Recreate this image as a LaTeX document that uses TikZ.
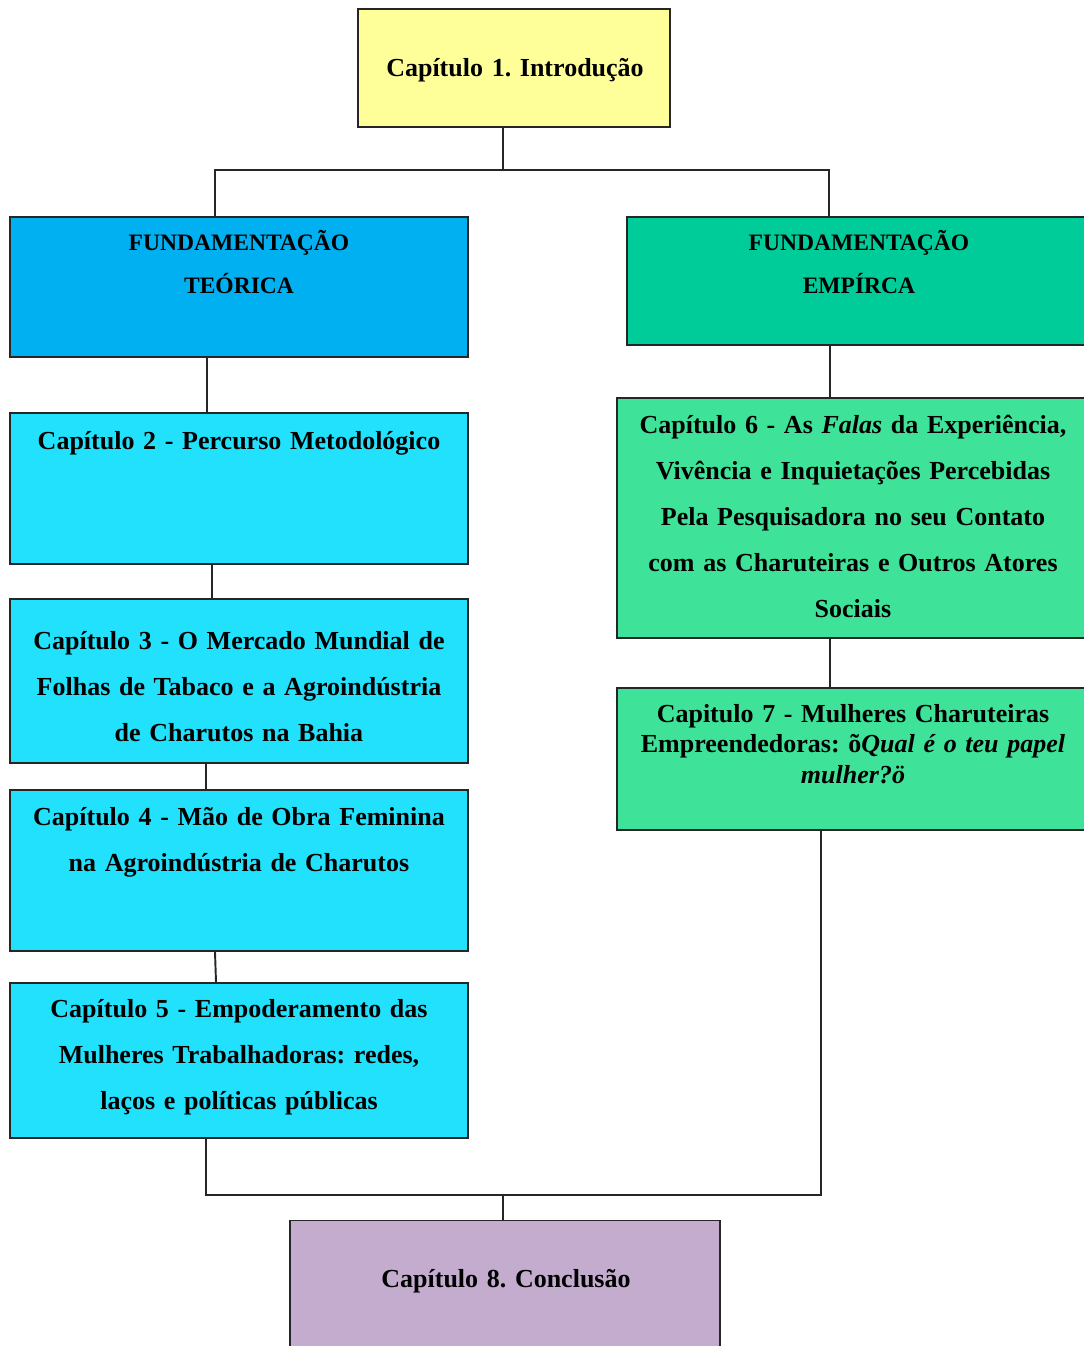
\documentclass[tikz,border=0pt]{standalone}
\usepackage{fontspec}
\setmainfont{Liberation Serif}
\usetikzlibrary{calc}
\frenchspacing
\definecolor{amarelo}{RGB}{255, 255, 153}
\definecolor{azulteo}{RGB}{0, 176, 240}
\definecolor{verdeemp}{RGB}{0, 204, 153}
\definecolor{ciano}{RGB}{33, 225, 252}
\definecolor{verdecap}{RGB}{62, 226, 152}
\definecolor{lilas}{RGB}{196, 172, 207}

\begin{document}
\begin{tikzpicture}[
x=0.02cm, y=-0.02cm,
boxnode/.style={rectangle, draw=black!85, line width=1.1pt, inner sep=0pt},
chaptext/.style={font=\bfseries\fontsize{14.8}{26.2}\selectfont, align=center, text width=9.2cm, inner sep=0pt, anchor=base},
headtext/.style={font=\bfseries\fontsize{13.4}{25}\selectfont, align=center, text width=9cm, inner sep=0pt, anchor=base},
linha/.style={draw=black!85, line width=1.1pt},
]
\useasboundingbox (0,0) rectangle (1083,1346);

%Boxes
\node[boxnode, fill=amarelo,  minimum width=6.24cm, minimum height=2.36cm] (C1) at (514,68) {};
\node[boxnode, fill=azulteo,  minimum width=9.16cm, minimum height=2.8cm]  (FT) at (239,287) {};
\node[boxnode, fill=verdeemp, minimum width=9.28cm, minimum height=2.56cm] (FE) at (859,281) {};
\node[boxnode, fill=ciano,    minimum width=9.16cm, minimum height=3.02cm] (C2) at (239,488.5) {};
\node[boxnode, fill=ciano,    minimum width=9.16cm, minimum height=3.28cm] (C3) at (239,681) {};
\node[boxnode, fill=ciano,    minimum width=9.16cm, minimum height=3.22cm] (C4) at (239,870.5) {};
\node[boxnode, fill=ciano,    minimum width=9.16cm, minimum height=3.1cm]  (C5) at (239,1060.5) {};
\node[boxnode, fill=verdecap, minimum width=9.44cm, minimum height=4.8cm]  (C6) at (853,518) {};
\node[boxnode, fill=verdecap, minimum width=9.44cm, minimum height=2.84cm] (C7) at (853,759) {};
\node[boxnode, fill=lilas,    minimum width=8.6cm,  minimum height=2.78cm] (C8) at (505,1290) {};

%Texts
\node[chaptext] (C1t) at (515,76) {Capítulo 1. Introdução};
\node[headtext] (FTt) at (239,250) {FUNDAMENTAÇÃO\\TEÓRICA};
\node[headtext] (FEt) at (859,250) {FUNDAMENTAÇÃO\\EMPÍRCA};
\node[chaptext] (C2t) at (239,449) {Capítulo 2 - Percurso Metodológico};
\node[chaptext] (C3t) at (239,649) {Capítulo 3 - O Mercado Mundial de\\Folhas de Tabaco e a Agroindústria\\de Charutos na Bahia};
\node[chaptext] (C4t) at (239,825) {Capítulo 4 - Mão de Obra Feminina\\na Agroindústria de Charutos};
\node[chaptext] (C5t) at (239,1017) {Capítulo 5 - Empoderamento das\\Mulheres Trabalhadoras: redes,\\laços e políticas públicas};
\node[chaptext] (C6t) at (853,433) {Capítulo 6 - As \textit{Falas} da Experiência,\\Vivência e Inquietações Percebidas\\Pela Pesquisadora no seu Contato\\com as Charuteiras e Outros Atores\\Sociais};
\node[chaptext, font=\bfseries\fontsize{14.8}{17.4}\selectfont] (C7t) at (853,722) {Capitulo 7 - Mulheres Charuteiras\\Empreendedoras: õ\textit{Qual é o teu papel\\mulher?ö}};
\node[chaptext] (C8t) at (506,1287) {Capítulo 8. Conclusão};

%Connectors
\coordinate (topo) at (503,170);
\coordinate (esq) at (215,170);
\coordinate (dir) at (829,170);
\coordinate (base) at (503,1195);

\draw[linha] (C1.south -| topo) -- (topo);
\draw[linha] (FT.north -| esq) -- (esq) -- (dir) -- (FE.north -| dir);

\draw[linha] ($(FT.south)+(-32,0)$) -- ($(C2.north)+(-32,0)$);
\draw[linha] ($(C2.south)+(-27,0)$) -- ($(C3.north)+(-27,0)$);
\draw[linha] ($(C3.south)+(-33,0)$) -- ($(C4.north)+(-33,0)$);
\draw[linha] ($(C4.south)+(-24,0)$) -- ($(C5.north)+(-23,0)$);

\draw[linha] ($(FE.south)+(-29,0)$) -- ($(C6.north)+(-23,0)$);
\draw[linha] ($(C6.south)+(-23,0)$) -- ($(C7.north)+(-23,0)$);

\draw[linha] ($(C5.south)+(-33,0)$) |- (base) -| ($(C7.south)+(-32,0)$);
\draw[linha] (base) -- (C8.north -| base);

\end{tikzpicture}
\end{document}
